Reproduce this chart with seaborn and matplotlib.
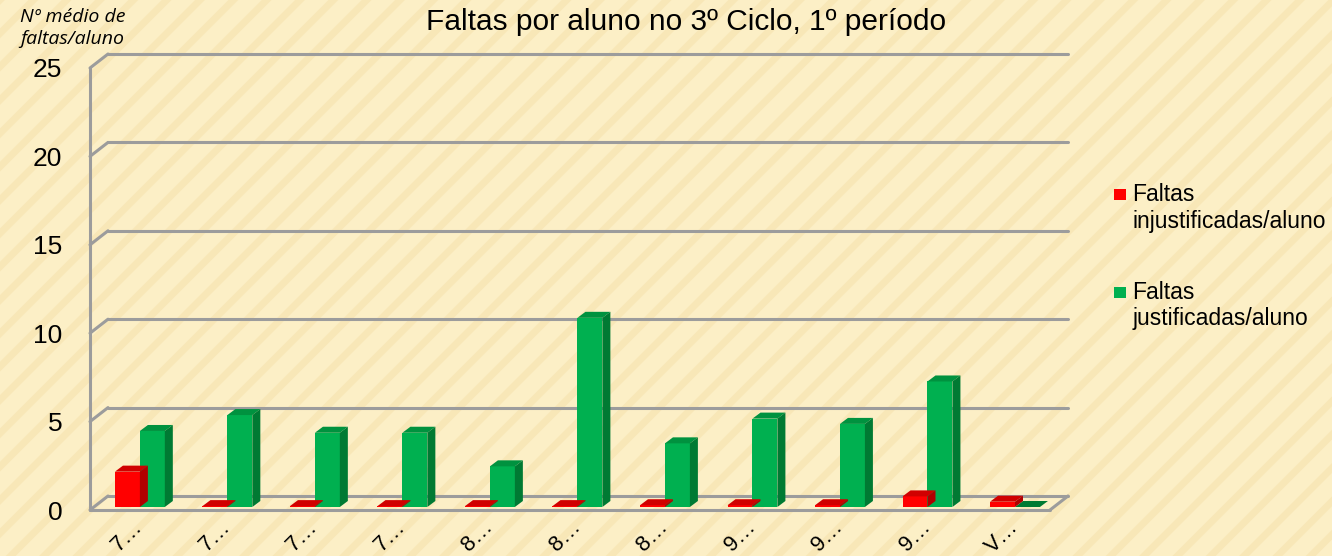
import numpy as np
import pandas as pd
import matplotlib
matplotlib.use("Agg")
import matplotlib.pyplot as plt
import seaborn as sns
from matplotlib.patches import Polygon, Rectangle, Patch
from matplotlib.legend_handler import HandlerPatch
from matplotlib.transforms import ScaledTranslation

# Data
turmas = ["7…", "7…", "7…", "7…", "8…", "8…", "8…", "9…", "9…", "9…", "V…"]
injustificadas = [2.0, 0.05, 0.05, 0.05, 0.05, 0.05, 0.1, 0.1, 0.1, 0.6, 0.3]
justificadas = [4.3, 5.2, 4.2, 4.2, 2.3, 10.7, 3.6, 5.0, 4.7, 7.1, 0.0]
series_names = ["Faltas\ninjustificadas/aluno", "Faltas\njustificadas/aluno"]
yticks = [0, 5, 10, 15, 20, 25]

front_colors = {series_names[0]: "#FF0000", series_names[1]: "#00B050"}
top_colors = ["#D00000", "#00923F"]
side_colors = ["#B00000", "#007A33"]
BG = "#FCEFC6"

df = pd.DataFrame({
    "turma": list(range(len(turmas))) * 2,
    "valor": injustificadas + justificadas,
    "serie": [series_names[0]] * len(turmas) + [series_names[1]] * len(turmas),
})

sns.set_theme(style="white")
plt.rcParams["font.family"] = ["Liberation Sans", "DejaVu Sans"]
plt.rcParams["text.color"] = "black"
plt.rcParams["xtick.color"] = "black"
plt.rcParams["ytick.color"] = "black"
plt.rcParams["hatch.linewidth"] = 5
plt.rcParams["hatch.color"] = "#F8E7B7"

W, H, DPI = 13.32, 5.56, 100
fig = plt.figure(figsize=(W, H), dpi=DPI, facecolor=BG)
# striped background
fig.patches.append(Rectangle((0, 0), 1, 1, transform=fig.transFigure,
                             facecolor=BG, edgecolor="#F8E7B7", hatch="/",
                             linewidth=0, zorder=-10))

ax_left, ax_bottom, ax_w, ax_h = 90 / 1332, 46 / 556, 960 / 1332, 442 / 556
ax = fig.add_axes([ax_left, ax_bottom, ax_w, ax_h])
ax.patch.set_alpha(0)

sns.barplot(data=df, x="turma", y="valor", hue="serie", palette=front_colors,
            width=0.57, saturation=1, ax=ax, legend=False, zorder=3,
            linewidth=0)

ax.set_ylim(0, 25)
ax.set_xlim(-0.57, 10.4)
for s in ax.spines.values():
    s.set_visible(False)

# pixel -> data conversions for the 3D offsets
ax_w_px = W * DPI * ax_w
ax_h_px = H * DPI * ax_h
x_per_px = (ax.get_xlim()[1] - ax.get_xlim()[0]) / ax_w_px
y_per_px = 25 / ax_h_px

# back wall gridlines with a short diagonal on the left wall
gdx, gdy = 18, 14
grid_kw = dict(color="#9C9C9C", lw=2.2, clip_on=False, zorder=1,
               transform=ax.get_yaxis_transform())
for v in yticks:
    vb = v + gdy * y_per_px
    ax.plot([0, gdx / ax_w_px], [v, vb], **grid_kw)
    ax.plot([gdx / ax_w_px, 1 + gdx / ax_w_px], [vb, vb], **grid_kw)
ax.plot([0, 0], [0, 25], **grid_kw)
ax.plot([0, 1], [0, 0], **grid_kw)
ax.plot([1, 1 + gdx / ax_w_px], [0, gdy * y_per_px], **grid_kw)

# 3D faces on each bar
bdx, bdy = 8 * x_per_px, 6 * y_per_px
lift = 3 * y_per_px
bars = [p for p in ax.patches if isinstance(p, Rectangle)]
n = len(turmas)
for i, p in enumerate(bars):
    k = 0 if i < n else 1
    x, w, h = p.get_x(), p.get_width(), p.get_height()
    p.set_y(lift)
    if h <= 0:
        ax.add_patch(Polygon([(x, lift), (x + w, lift), (x + w + bdx, lift + bdy), (x + bdx, lift + bdy)],
                             closed=True, facecolor=side_colors[k], lw=0, zorder=3))
        continue
    t = h + lift
    ax.add_patch(Polygon([(x, t), (x + w, t), (x + w + bdx, t + bdy), (x + bdx, t + bdy)],
                         closed=True, facecolor=top_colors[k], lw=0, zorder=4))
    ax.add_patch(Polygon([(x + w, lift), (x + w + bdx, lift + bdy), (x + w + bdx, t + bdy), (x + w, t)],
                         closed=True, facecolor=side_colors[k], lw=0, zorder=4))

ax.set_yticks(yticks)
ax.set_yticklabels([str(v) for v in yticks], fontsize=19)
ax.set_xticks(range(n))
ax.set_xticklabels(turmas, fontsize=16, rotation=45, ha="right",
                   rotation_mode="anchor", va="center")
shift = ScaledTranslation(10 / DPI, 0, fig.dpi_scale_trans)
for lab in ax.get_xticklabels():
    lab.set_transform(lab.get_transform() + shift)
ax.tick_params(axis="x", length=0, pad=10)
ax.tick_params(axis="y", length=0, pad=20)
ax.set_xlabel("")
ax.set_ylabel("")

fig.text(686 / 1332, 1 - 22 / 556, "Faltas por aluno no 3º Ciclo, 1º período",
         ha="center", va="center", fontsize=21.5)
fig.text(20 / 1332, 1 - 8 / 556, "Nº médio de\nfaltas/aluno", ha="left", va="top",
         fontsize=14, style="italic", family=["Open Sans", "DejaVu Sans"],
         linespacing=1.3)


def top_square(legend, orig_handle, xdescent, ydescent, width, height, fontsize):
    s = 0.5 * fontsize
    return Rectangle((-xdescent, -ydescent + height / 2 + 0.62 * fontsize - s / 2), s, s)


handles = [Patch(facecolor=front_colors[s], edgecolor="none") for s in series_names]
fig.legend(handles, series_names, loc="upper left",
           bbox_to_anchor=(1105 / 1332, 1 - 174 / 556), frameon=False,
           fontsize=16.5, handlelength=0.5, handletextpad=0.3,
           labelspacing=2.1, borderaxespad=0,
           handler_map={Patch: HandlerPatch(patch_func=top_square)})

fig.savefig("out.png", dpi=DPI, facecolor=BG)
